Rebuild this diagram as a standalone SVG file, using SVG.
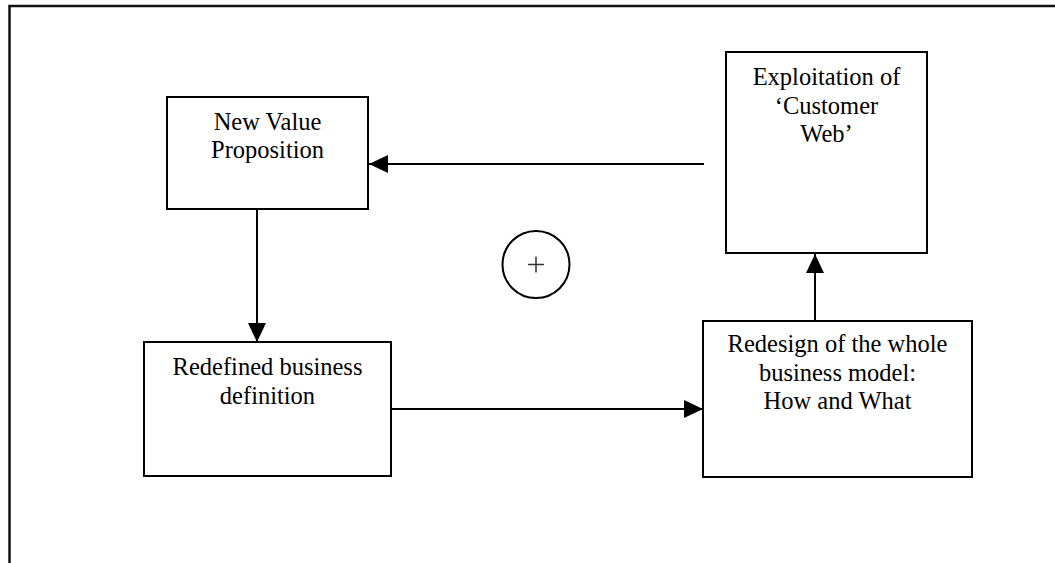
<svg xmlns="http://www.w3.org/2000/svg" width="1055" height="563" viewBox="0 0 1055 563">
<style>
.box{fill:#fff;stroke:#000;stroke-width:2}
.t{font-family:"Liberation Serif","Times New Roman",serif;font-size:24.5px;fill:#000;text-anchor:middle}
.c{stroke:#000;stroke-width:2;fill:none}
.frame{stroke:#111;stroke-width:2.5;fill:none}
</style>
<defs>
<marker id="ah" markerUnits="userSpaceOnUse" markerWidth="20" markerHeight="20" viewBox="0 0 20 20" refX="19" refY="10" orient="auto">
<path d="M0,1 L19,10 L0,19 Z" fill="#000"/>
</marker>
</defs>
<rect width="1055" height="563" fill="#fff"/>
<path class="frame" d="M9.5,563 V6 H1055"/>
<g id="connectors">
<line class="c" x1="704" y1="164" x2="369" y2="164" marker-end="url(#ah)"/>
<line class="c" x1="257" y1="209" x2="257" y2="342" marker-end="url(#ah)"/>
<line class="c" x1="391" y1="409" x2="703" y2="409" marker-end="url(#ah)"/>
<line class="c" x1="815" y1="321" x2="815" y2="254" marker-end="url(#ah)"/>
</g>
<g id="n1">
<rect class="box" x="167" y="97" width="201" height="112"/>
<text class="t" x="267.5" y="129.5">New Value</text>
<text class="t" x="267.5" y="158">Proposition</text>
</g>
<g id="n2">
<rect class="box" x="726" y="52" width="201" height="201"/>
<text class="t" x="826.5" y="85">Exploitation of</text>
<text class="t" x="826.5" y="113.5">‘Customer</text>
<text class="t" x="826.5" y="142">Web’</text>
</g>
<g id="n3">
<rect class="box" x="144" y="342" width="247" height="134"/>
<text class="t" x="267.5" y="375">Redefined business</text>
<text class="t" x="267.5" y="403.5">definition</text>
</g>
<g id="n4">
<rect class="box" x="703" y="321" width="269" height="156"/>
<text class="t" x="837.5" y="352">Redesign of the whole</text>
<text class="t" x="837.5" y="380.5">business model:</text>
<text class="t" x="837.5" y="409">How and What</text>
</g>
<g id="plus">
<circle cx="536" cy="264.5" r="33.5" fill="#fff" stroke="#000" stroke-width="2"/>
<path d="M528,264.5 H544 M536,256.5 V272.5" stroke="#333" stroke-width="1.5"/>
</g>
</svg>
